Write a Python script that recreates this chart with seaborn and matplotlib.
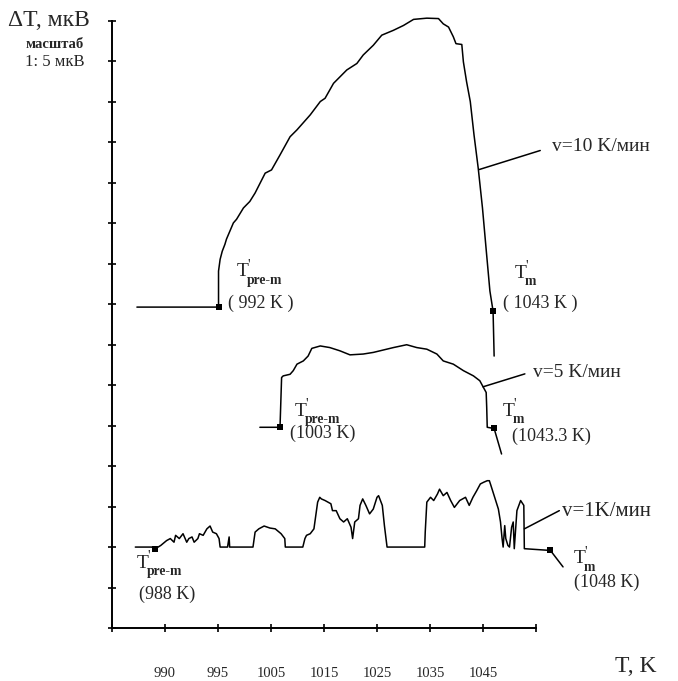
import matplotlib
matplotlib.use("Agg")
import matplotlib.pyplot as plt
import pandas as pd
import seaborn as sns

# ---------------- data (axis units: x = tick index, y = scale divisions) ----------------
x_tick_pos = [0, 1, 2, 3, 4, 5, 6, 7, 8]
x_tick_labels = ["", "990", "995", "1005", "1015", "1025", "1035", "1045", ""]
y_tick_pos = list(range(16))

# v = 10 K/min curve
v10_x = [0.47, 2.01, 2.01, 2.04, 2.08, 2.13, 2.16, 2.29, 2.35, 2.48, 2.60, 2.70, 2.89, 3.01,
         3.17, 3.36, 3.49, 3.74, 3.93, 4.02, 4.18, 4.43, 4.62, 4.74, 4.93, 5.09, 5.31, 5.50,
         5.69, 5.94, 6.16, 6.25, 6.35, 6.44, 6.49, 6.60, 6.63, 6.69, 6.76, 6.83, 6.91, 6.99,
         7.06, 7.13, 7.19, 7.21]
v10_y = [7.93, 7.93, 8.82, 9.11, 9.31, 9.48, 9.61, 10.01, 10.10, 10.38, 10.54, 10.75, 11.24, 11.32,
         11.69, 12.14, 12.31, 12.68, 13.01, 13.09, 13.46, 13.79, 13.95, 14.16, 14.40, 14.65, 14.77, 14.89,
         15.04, 15.07, 15.06, 14.93, 14.85, 14.61, 14.44, 14.42, 13.99, 13.50, 13.01, 12.19, 11.36, 10.38,
         9.35, 8.33, 7.83, 6.72]
v10_mark_x = [2.01, 7.19]
v10_mark_y = [7.93, 7.83]

# v = 5 K/min curve
v5_x = [2.79, 3.17, 3.20, 3.23, 3.36, 3.42, 3.49, 3.61, 3.70, 3.77, 3.93, 4.11, 4.30, 4.49,
        4.74, 4.93, 5.12, 5.31, 5.56, 5.75, 5.94, 6.13, 6.25, 6.44, 6.63, 6.82, 6.94, 7.01,
        7.06, 7.07, 7.08, 7.21, 7.35]
v5_y = [4.96, 4.96, 6.19, 6.23, 6.27, 6.36, 6.52, 6.60, 6.72, 6.91, 6.97, 6.93, 6.85, 6.75,
        6.77, 6.81, 6.87, 6.93, 7.00, 6.93, 6.89, 6.77, 6.60, 6.52, 6.36, 6.23, 6.11, 5.94,
        5.82, 5.45, 4.96, 4.93, 4.30]
v5_mark_x = [3.17, 7.21]
v5_mark_y = [4.96, 4.93]

# v = 1 K/min curve
v1_x = [0.44, 0.75, 0.82, 0.92, 1.03, 1.10, 1.17, 1.20, 1.27, 1.34, 1.41, 1.45, 1.51, 1.55,
        1.62, 1.65, 1.72, 1.79, 1.85, 1.90, 1.97, 2.02, 2.04, 2.18, 2.21, 2.22, 2.66, 2.70,
        2.77, 2.87, 2.98, 3.08, 3.19, 3.26, 3.27, 3.60, 3.64, 3.67, 3.74, 3.81, 3.88, 3.92,
        3.95, 4.02, 4.13, 4.16, 4.23, 4.30, 4.37, 4.44, 4.51, 4.54, 4.58, 4.65, 4.68, 4.73,
        4.79, 4.86, 4.93, 5.00, 5.03, 5.10, 5.14, 5.17, 5.19, 5.90, 5.91, 5.94, 6.01, 6.07,
        6.14, 6.18, 6.25, 6.32, 6.39, 6.46, 6.56, 6.67, 6.74, 6.81, 6.88, 6.95, 7.01, 7.08,
        7.12, 7.15, 7.22, 7.29, 7.33, 7.36, 7.38, 7.41, 7.43, 7.47, 7.50, 7.54, 7.57, 7.59,
        7.64, 7.71, 7.77, 7.78, 8.23, 8.27, 8.51]
v1_y = [2.00, 2.00, 1.96, 2.04, 2.16, 2.21, 2.12, 2.29, 2.21, 2.33, 2.12, 2.21, 2.25, 2.12,
        2.21, 2.33, 2.29, 2.45, 2.52, 2.37, 2.33, 2.21, 2.00, 2.00, 2.25, 2.00, 2.00, 2.37,
        2.45, 2.52, 2.47, 2.45, 2.33, 2.21, 2.00, 2.00, 2.21, 2.29, 2.33, 2.45, 3.11, 3.23,
        3.19, 3.15, 3.07, 2.90, 2.90, 2.70, 2.62, 2.70, 2.49, 2.21, 2.62, 2.70, 3.03, 3.19,
        3.03, 2.82, 2.94, 3.23, 3.27, 3.03, 2.53, 2.21, 2.00, 2.00, 2.37, 3.11, 3.23, 3.15,
        3.31, 3.43, 3.27, 3.35, 3.15, 2.98, 3.15, 3.23, 3.03, 3.23, 3.39, 3.56, 3.60, 3.64,
        3.64, 3.52, 3.23, 2.94, 2.62, 2.21, 2.00, 2.53, 2.21, 2.04, 2.00, 2.49, 2.62, 1.96,
        2.90, 3.15, 3.03, 1.96, 1.92, 1.92, 1.51]
v1_mark_x = [0.82, 8.27]
v1_mark_y = [1.96, 1.92]

# leader lines to the rate labels
lead10_x, lead10_y = [6.93, 8.08], [11.33, 11.80]
lead5_x, lead5_y = [7.00, 7.79], [5.96, 6.28]
lead1_x, lead1_y = [7.78, 8.44], [2.45, 2.90]

# ---------------- figure ----------------
sns.set_style("white")
plt.rcParams["font.family"] = ["Liberation Serif", "DejaVu Serif"]

W, H = 678, 681
fig = plt.figure(figsize=(W / 100, H / 100), dpi=100)
ax = fig.add_axes([112 / W, 53 / H, (W - 112) / W, 607 / H])
ax.set_xlim(0, (W - 112) / 53)
ax.set_ylim(0, 15)

lw = 1.1
for xs, ys in [(v10_x, v10_y), (v5_x, v5_y), (v1_x, v1_y),
               (lead10_x, lead10_y), (lead5_x, lead5_y), (lead1_x, lead1_y)]:
    df = pd.DataFrame({"x": xs, "y": ys})
    sns.lineplot(data=df, x="x", y="y", sort=False, estimator=None,
                 color="black", linewidth=lw, ax=ax)
mx = v10_mark_x + v5_mark_x + v1_mark_x
my = v10_mark_y + v5_mark_y + v1_mark_y
sns.scatterplot(x=mx, y=my, marker="s", s=22, color="black", linewidth=0, ax=ax, zorder=5)
for ln in ax.lines:
    ln.set_clip_on(False)
for c in ax.collections:
    c.set_clip_on(False)

# axes styling
for s in ["top", "right"]:
    ax.spines[s].set_visible(False)
for s in ["left", "bottom"]:
    ax.spines[s].set_linewidth(1.4)
    ax.spines[s].set_color("black")
ax.spines["left"].set_bounds(0, 15)
ax.spines["bottom"].set_bounds(0, 8)
ax.set_xticks(x_tick_pos)
ax.set_xticklabels(x_tick_labels, fontsize=10.5)
ax.set_yticks(y_tick_pos)
ax.set_yticklabels([])
ax.tick_params(axis="both", direction="inout", length=6, width=1.2, color="black",
               bottom=True, left=True, top=False, right=False)
ax.tick_params(axis="x", pad=25)
ax.set_xlabel("")
ax.set_ylabel("")
ax.grid(False)


def prime_label(u, v, sub, fs=14):
    ax.text(u, v, "T", fontsize=fs, ha="left", va="baseline")
    ax.annotate("'", xy=(u, v), xytext=(fs * 0.55, fs * 0.42), textcoords="offset points",
                fontsize=fs * 0.75, ha="left", va="baseline", annotation_clip=False)
    ax.annotate(sub, xy=(u, v), xytext=(fs * 0.5, -fs * 0.38), textcoords="offset points",
                fontsize=fs * 0.7, ha="left", va="baseline", fontweight="bold",
                annotation_clip=False)


fs_a = 14
prime_label(2.36, 8.69, "pre-m", fs_a)
ax.text(2.19, 8.03, "( 992 K )", fontsize=fs_a - 1, ha="left", va="center")
prime_label(7.60, 8.65, "m", fs_a)
ax.text(7.38, 8.03, "( 1043 K )", fontsize=fs_a - 1, ha="left", va="center")

prime_label(3.45, 5.25, "pre-m", fs_a)
ax.text(3.36, 4.80, "(1003 K)", fontsize=fs_a - 1, ha="left", va="center")
prime_label(7.38, 5.25, "m", fs_a)
ax.text(7.55, 4.73, "(1043.3 K)", fontsize=fs_a - 1, ha="left", va="center")

prime_label(0.47, 1.48, "pre-m", fs_a)
ax.text(0.51, 0.84, "(988 K)", fontsize=fs_a - 1, ha="left", va="center")
prime_label(8.72, 1.60, "m", fs_a)
ax.text(8.72, 1.13, "(1048 K)", fontsize=fs_a - 1, ha="left", va="center")

ax.text(8.30, 11.90, "v=10 K/мин", fontsize=fs_a, ha="left", va="center")
ax.text(7.94, 6.31, "v=5 K/мин", fontsize=fs_a, ha="left", va="center")
ax.text(8.50, 2.88, "v=1K/мин", fontsize=fs_a + 1, ha="left", va="center")

fig.text(8 / W, 1 - 21 / H, "ΔT, мкВ", fontsize=17, ha="left", va="center")
fig.text(55 / W, 1 - 45 / H, "масштаб", fontsize=10.5, fontweight="bold", ha="center", va="center")
fig.text(55 / W, 1 - 62 / H, "1: 5 мкВ", fontsize=12, ha="center", va="center")
fig.text(615 / W, 1 - 666 / H, "T, K", fontsize=17, ha="left", va="center")

fig.savefig("out.png", dpi=100)
